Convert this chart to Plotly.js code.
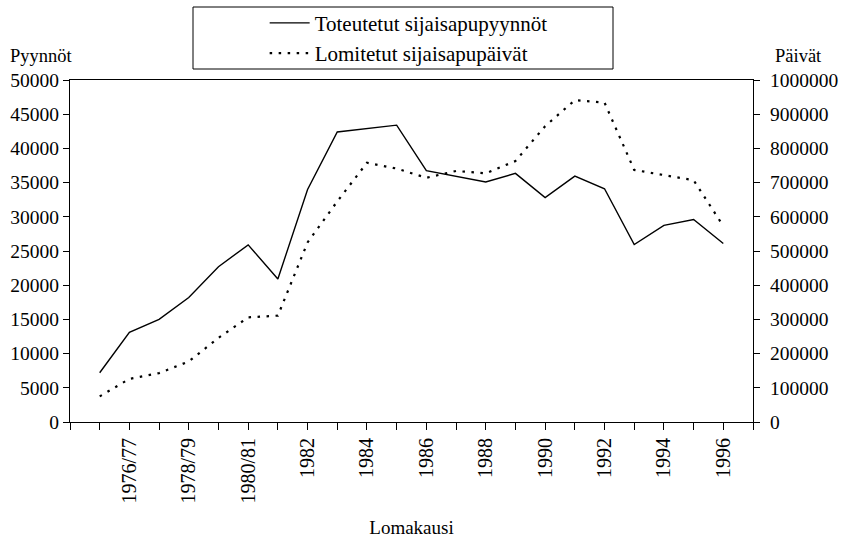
<!DOCTYPE html>
<html>
<head>
<meta charset="utf-8">
<script src="https://cdn.plot.ly/plotly-3.0.1.min.js"></script>
<style>html,body{margin:0;padding:0;background:#fff;}#chart{width:842px;height:541px;}</style>
</head>
<body>
<div id="chart"></div>
<script>
// Seasons (lomakausi), one per data point
const seasons = ['1975/76','1976/77','1977/78','1978/79','1979/80','1980/81','1981','1982','1983','1984','1985','1986','1987','1988','1989','1990','1991','1992','1993','1994','1995','1996'];
// Toteutetut sijaisapupyynnöt (left axis)
const requests = [7200,13100,15000,18200,22700,25900,20900,34000,42400,42950,43400,36750,35900,35100,36350,32800,35950,34100,25950,28750,29600,26100];
// Lomitetut sijaisapupäivät (right axis)
const days = [75000,126000,143000,177000,246000,306000,311000,525000,645000,758000,741000,714000,734000,727000,763000,865000,941000,934000,737000,722000,707000,573000];
// Labelled seasons on the x axis
const shownLabels = ['1976/77','1978/79','1980/81','1982','1984','1986','1988','1990','1992','1994','1996'];

const xPos = seasons.map((s, i) => i + 1);
const tickVals = [0].concat(xPos, [seasons.length + 1]);
const tickText = ['', ...seasons.map(s => shownLabels.includes(s) ? s : ''), ''];

const FONT = 'Liberation Serif, Times New Roman, serif';

const traces = [
  {
    x: xPos, y: requests, name: 'Toteutetut sijaisapupyynnöt',
    type: 'scatter', mode: 'lines', yaxis: 'y',
    line: {color: '#000', width: 1.4}
  },
  {
    x: xPos, y: days, name: 'Lomitetut sijaisapupäivät',
    type: 'scatter', mode: 'lines', yaxis: 'y2',
    line: {color: '#000', width: 2.2, dash: '2.5px,6.5px'}
  }
];

const layout = {
  width: 842, height: 541,
  margin: {l: 70, r: 89, t: 80, b: 119, autoexpand: false},
  paper_bgcolor: '#fff', plot_bgcolor: '#fff',
  font: {family: FONT, color: '#000', size: 19},
  showlegend: true,
  legend: {
    x: 0.285, y: 1.226, xanchor: 'left', yanchor: 'top',
    bgcolor: 'rgba(0,0,0,0)', borderwidth: 0,
    font: {family: FONT, size: 21, color: '#000'},
    tracegroupgap: 0, itemwidth: 40
  },
  xaxis: {
    range: [0, seasons.length + 1],
    tickmode: 'array', tickvals: tickVals, ticktext: tickText,
    tickangle: -90, ticks: 'outside', ticklen: 7, tickcolor: '#000', tickwidth: 1,
    showline: true, linecolor: '#000', linewidth: 1, mirror: true,
    showgrid: false, zeroline: false, automargin: false,
    tickfont: {family: FONT, size: 20, color: '#000'},
    title: {text: 'Lomakausi', font: {family: FONT, size: 19, color: '#000'}, standoff: 18}
  },
  yaxis: {
    range: [0, 50000], dtick: 5000, tick0: 0,
    ticks: 'outside', ticklen: 6, tickcolor: '#000',
    showline: true, linecolor: '#000', linewidth: 1,
    showgrid: false, zeroline: false, automargin: false,
    tickfont: {family: FONT, size: 19.5, color: '#000'},
    tickformat: 'd'
  },
  yaxis2: {
    range: [0, 1000000], dtick: 100000, tick0: 0,
    overlaying: 'y', side: 'right',
    ticks: 'outside', ticklen: 6, tickcolor: '#000',
    showline: true, linecolor: '#000', linewidth: 1,
    showgrid: false, zeroline: false, automargin: false,
    tickfont: {family: FONT, size: 19.5, color: '#000'},
    tickformat: 'd', ticklabelstandoff: 6
  },
  shapes: [
    {type: 'rect', xref: 'paper', yref: 'paper',
     x0: (193 - 70) / 683, x1: (613 - 70) / 683,
     y0: 1 + (80 - 69) / 342, y1: 1 + (80 - 7) / 342,
     line: {color: '#000', width: 1}, fillcolor: 'rgba(0,0,0,0)'}
  ],
  annotations: [
    {text: 'Pyynnöt', xref: 'paper', yref: 'paper', x: (8 - 70) / 683, y: 1 + (80 - 56) / 342,
     xanchor: 'left', yanchor: 'middle', showarrow: false, font: {family: FONT, size: 18.5, color: '#000'}},
    {text: 'Päivät', xref: 'paper', yref: 'paper', x: (773 - 70) / 683, y: 1 + (80 - 56) / 342,
     xanchor: 'left', yanchor: 'middle', showarrow: false, font: {family: FONT, size: 18.5, color: '#000'}}
  ]
};

Plotly.newPlot('chart', traces, layout, {displayModeBar: false, responsive: false});
</script>
</body>
</html>
